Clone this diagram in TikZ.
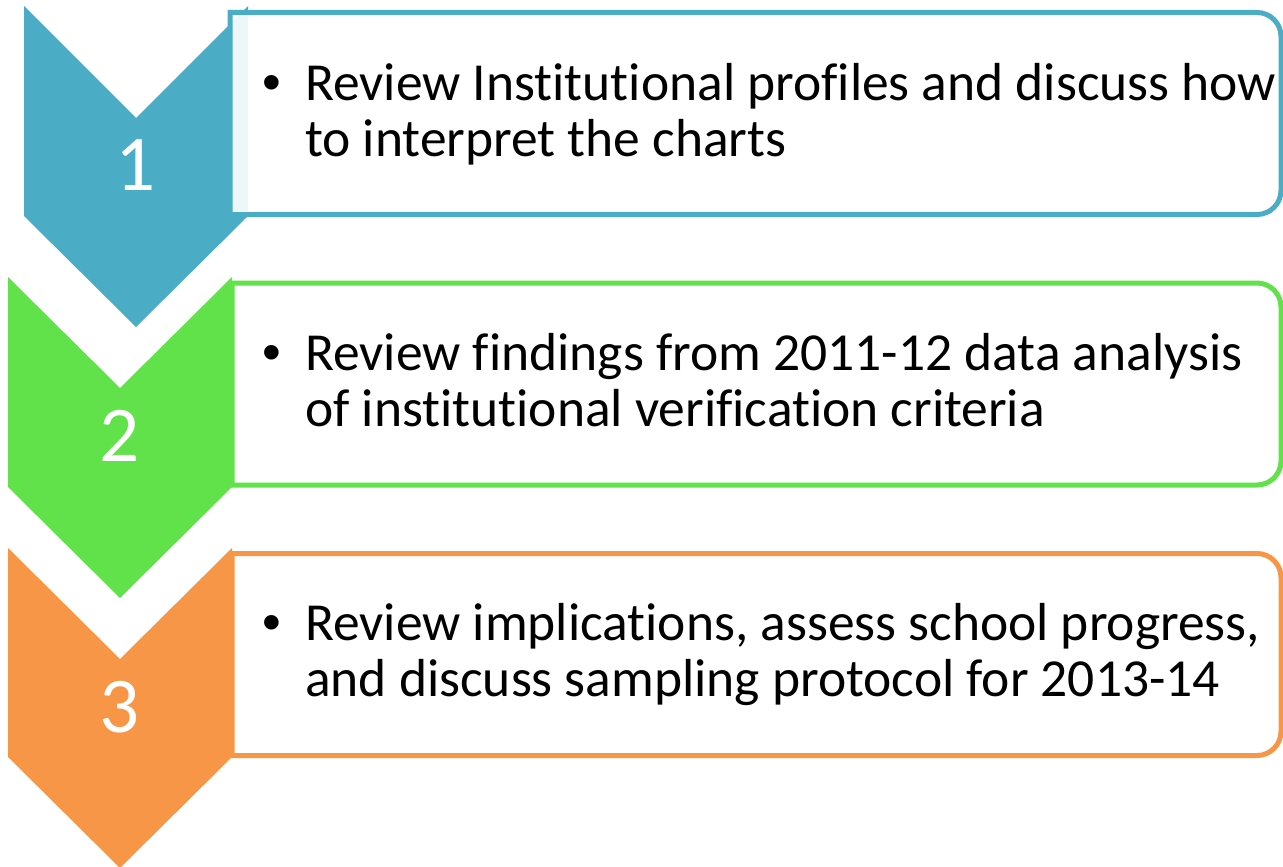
\documentclass[tikz,border=0pt]{standalone}
\usepackage{fontspec}
\setmainfont{Carlito}[RawFeature={-liga;-clig;-calt;-dlig;-rlig}]
\newfontfamily\bulletfont{Liberation Sans}
\usepackage{array}
\definecolor{cblue}{HTML}{4BACC6}
\definecolor{cgreen}{HTML}{62E24A}
\definecolor{corange}{HTML}{F79646}
\newcommand{\TI}{t\kern0pt i}
\tikzset{
  chev/.style={fill=#1, draw=none},
  stepbox/.style={draw=#1, line width=5pt, fill=white, fill opacity=0.9, draw opacity=1},
  numlabel/.style={text=white, inner sep=0, anchor=base, font=\fontsize{79}{90}\selectfont},
  itemtext/.style={inner sep=0, anchor=base west, text=black, font=\fontsize{53.5}{56}\selectfont},
}
\newcommand{\itemrow}[2]{\begin{tabular}[t]{@{}p{43pt}@{}l@{}}{\bulletfont •} & #1\\ & #2\end{tabular}}
\begin{document}
\begin{tikzpicture}[x=1pt,y=-1pt]
\useasboundingbox (0,0) rectangle (1283,867);
% chevron 1
\fill[chev=cblue] (24,6) -- (136,118) -- (248,6) -- (248,216) -- (136,327) -- (24,216) -- cycle;
% chevron 2
\fill[chev=cgreen] (8,277) -- (120,388) -- (232,277) -- (232,487) -- (120,598) -- (8,487) -- cycle;
% chevron 3
\fill[chev=corange] (8,548) -- (120,659) -- (232,548) -- (232,757) -- (120,868) -- (8,757) -- cycle;
% boxes
\draw[stepbox=cblue] (230,12.5) [rounded corners=24] -- (1281,12.5) -- (1281,214.5) [sharp corners] -- (230,214.5) -- cycle;
\draw[stepbox=cgreen] (232,283) [rounded corners=24] -- (1281,283) -- (1281,485) [sharp corners] -- (232,485) -- cycle;
\draw[stepbox=corange] (232,553.5) [rounded corners=24] -- (1281,553.5) -- (1281,755.5) [sharp corners] -- (232,755.5) -- cycle;
% numbers
\node[numlabel] (n1) at (136,190) {1};
\node[numlabel] (n2) at (120,461) {2};
\node[numlabel] (n3) at (120,732) {3};
% texts
\node[itemtext] (t1) at (262,100) {\itemrow{Review Ins\TI tu\TI onal profiles and discuss how}{to interpret the charts}};
\node[itemtext] (t2) at (262,370) {\itemrow{Review findings from 2011-12 data analysis}{of ins\TI tu\TI onal verifica\TI on criteria}};
\node[itemtext] (t3) at (262,640) {\itemrow{Review implica\TI ons, assess school progress,}{and discuss sampling protocol for 2013-14}};
\end{tikzpicture}
\end{document}
